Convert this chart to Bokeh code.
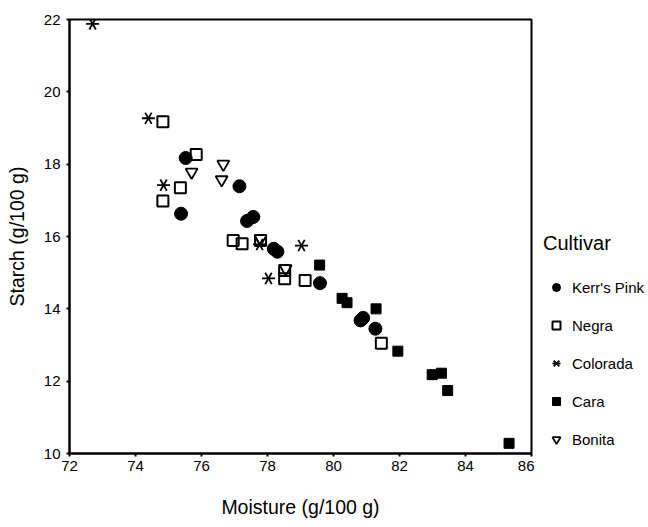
import math
from bokeh.plotting import figure
from bokeh.layouts import row
from bokeh.models import Legend, LegendItem, FixedTicker
from bokeh.embed import file_html
from bokeh.resources import INLINE

kp_x = [75.52, 77.15, 75.38, 77.57, 77.38, 78.19, 78.30, 79.59, 80.82, 80.90, 81.27]
kp_y = [18.17, 17.39, 16.63, 16.54, 16.43, 15.66, 15.58, 14.71, 13.68, 13.75, 13.45]

ng_x = [74.83, 75.84, 75.36, 74.83, 76.96, 77.23, 77.79, 78.52, 78.52, 79.14, 81.45]
ng_y = [19.17, 18.27, 17.35, 16.98, 15.89, 15.80, 15.89, 15.06, 14.83, 14.78, 13.05]

co_x = [72.70, 74.39, 74.85, 77.76, 79.03, 78.03]
co_y = [21.88, 19.27, 17.42, 15.78, 15.75, 14.84]

ca_x = [79.58, 80.26, 80.41, 81.29, 81.95, 82.99, 83.27, 83.46, 85.32]
ca_y = [15.21, 14.29, 14.17, 14.00, 12.83, 12.18, 12.22, 11.74, 10.28]

bo_x = [76.66, 75.70, 76.61, 77.79, 78.55]
bo_y = [18.00, 17.78, 17.57, 15.94, 15.11]

cultivars = ["Kerr's Pink", "Negra", "Colorada", "Cara", "Bonita"]
x_ticks = [72, 74, 76, 78, 80, 82, 84, 86]
y_ticks = [10, 12, 14, 16, 18, 20, 22]

FONT = "Liberation Sans"

# ---------------- main plot ----------------
p = figure(width=534, height=527, x_range=(72, 86), y_range=(10, 22),
           output_backend="svg", toolbar_location=None,
           min_border_left=69, min_border_right=3, min_border_top=19, min_border_bottom=74)
p.xgrid.visible = False
p.ygrid.visible = False
p.outline_line_color = "black"
p.outline_line_width = 2
p.outline_line_alpha = 1.0

for ax in (p.xaxis[0], p.yaxis[0]):
    ax.axis_line_width = 2
    ax.axis_line_color = "black"
    ax.major_tick_line_color = "black"
    ax.major_tick_line_width = 2
    ax.major_tick_out = 3
    ax.major_tick_in = 0
    ax.minor_tick_line_color = None
    ax.major_label_text_font = FONT
    ax.major_label_text_font_size = "15px"
    ax.major_label_text_color = "black"
    ax.axis_label_text_font = FONT
    ax.axis_label_text_font_size = "19.5px"
    ax.axis_label_text_font_style = "normal"
    ax.axis_label_text_color = "black"

p.xaxis.ticker = FixedTicker(ticks=x_ticks)
p.yaxis.ticker = FixedTicker(ticks=y_ticks)
p.xaxis.axis_label = "Moisture (g/100 g)"
p.yaxis.axis_label = "Starch (g/100 g)"
p.xaxis.major_label_standoff = 4
p.yaxis.major_label_standoff = 6
p.xaxis.axis_label_standoff = 22
p.yaxis.axis_label_standoff = 13

p.scatter(kp_x, kp_y, marker="circle", size=13, fill_color="black", line_color="black")
p.scatter(ng_x, ng_y, marker="square", size=11, fill_color="white", fill_alpha=0.0,
          line_color="black", line_width=2)
for a in (0, math.pi / 3, 2 * math.pi / 3):
    p.scatter(co_x, co_y, marker="dash", size=13, angle=a, line_color="black", line_width=1.8)
p.scatter(ca_x, ca_y, marker="square", size=10, fill_color="black", line_color="black")
p.scatter(bo_x, bo_y, marker="inverted_triangle", size=12, fill_color="white", fill_alpha=0.0,
          line_color="black", line_width=1.8)

# ---------------- legend panel ----------------
# the legend's renderers hold the first point of each series; the panel's ranges
# keep those points out of view, so only the legend glyphs are seen
q = figure(width=114, height=527, x_range=(0, 1), y_range=(0, 1),
           output_backend="svg", toolbar_location=None,
           x_axis_type=None, y_axis_type=None,
           min_border_left=0, min_border_right=0, min_border_top=0, min_border_bottom=0)
q.xgrid.visible = False
q.ygrid.visible = False
q.outline_line_color = None

g_kp = q.scatter(kp_x[:1], kp_y[:1], marker="circle", size=13, fill_color="black", line_color="black")
g_ng = q.scatter(ng_x[:1], ng_y[:1], marker="square", size=10, fill_color="white", fill_alpha=0.0,
                 line_color="black", line_width=2)
g_co1 = q.scatter(co_x[:1], co_y[:1], marker="dash", size=13, line_color="black", line_width=1.8)
g_co2 = q.scatter(co_x[:1], co_y[:1], marker="x", size=11, line_color="black", line_width=1.8)
g_ca = q.scatter(ca_x[:1], ca_y[:1], marker="square", size=9, fill_color="black", line_color="black")
g_bo = q.scatter(bo_x[:1], bo_y[:1], marker="inverted_triangle", size=12, fill_color="white", fill_alpha=0.0,
                 line_color="black", line_width=1.8)

legend = Legend(items=[
    LegendItem(label=cultivars[0], renderers=[g_kp]),
    LegendItem(label=cultivars[1], renderers=[g_ng]),
    LegendItem(label=cultivars[2], renderers=[g_co1, g_co2]),
    LegendItem(label=cultivars[3], renderers=[g_ca]),
    LegendItem(label=cultivars[4], renderers=[g_bo]),
], location=(9, 4))
legend.title = "Cultivar"
legend.title_text_font = FONT
legend.title_text_font_size = "20px"
legend.title_text_font_style = "normal"
legend.title_text_color = "black"
legend.title_standoff = 22
legend.label_text_font = FONT
legend.label_text_font_size = "15px"
legend.label_text_color = "black"
legend.glyph_width = 26
legend.glyph_height = 20
legend.label_height = 20
legend.spacing = 18
legend.padding = 0
legend.margin = 0
legend.label_standoff = 3
legend.border_line_color = None
legend.background_fill_alpha = 0
q.add_layout(legend, "center")

layout = row(p, q, spacing=0)
open("out.html", "w").write(file_html(layout, INLINE))
